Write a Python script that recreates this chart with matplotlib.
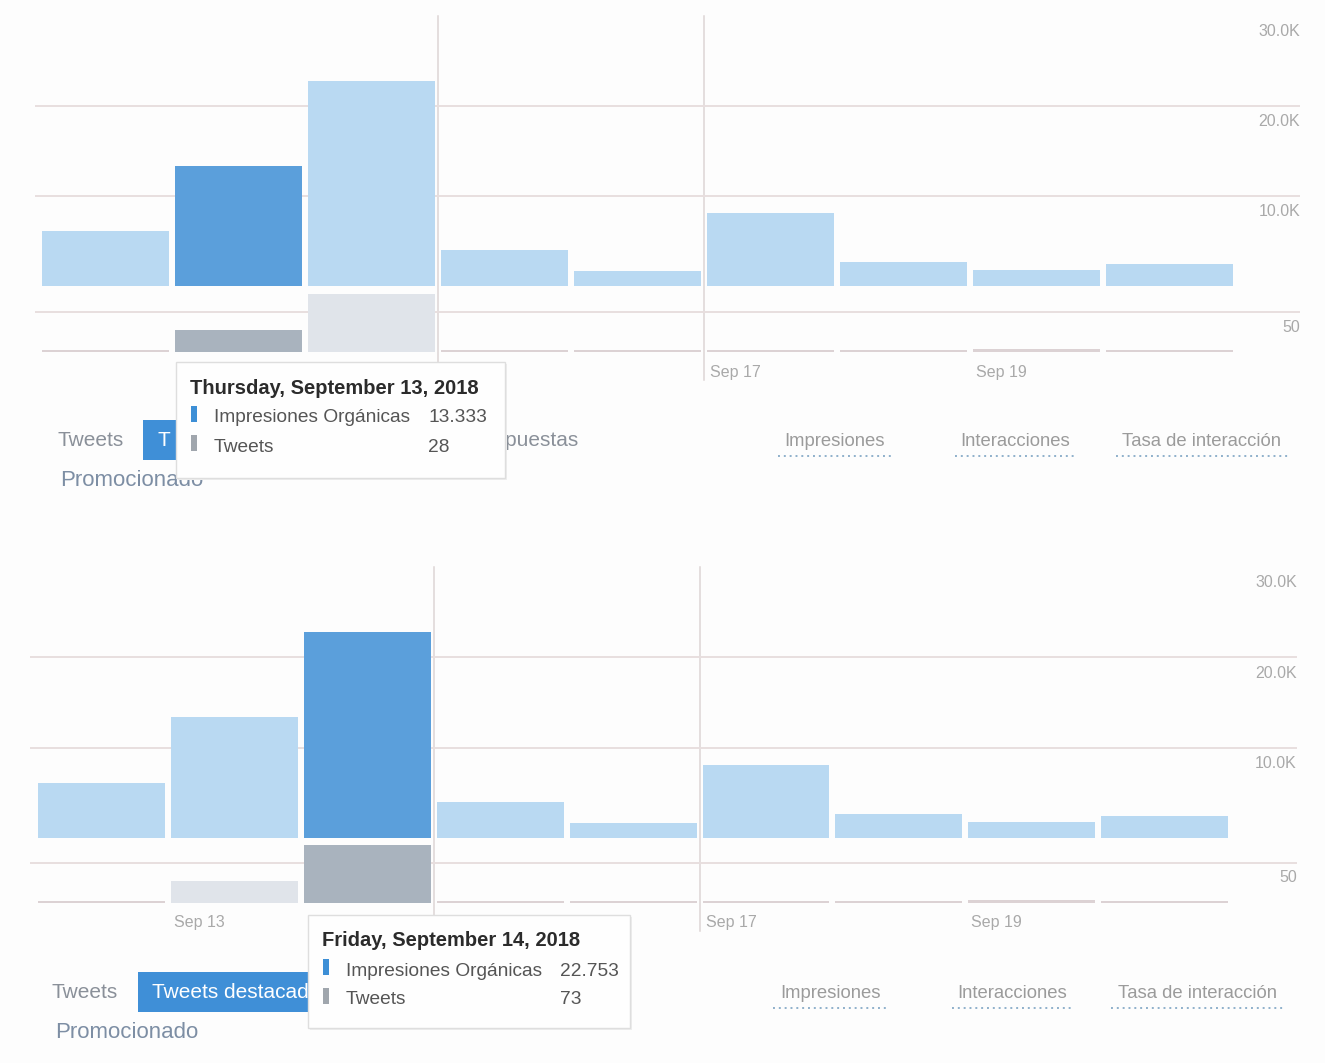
import matplotlib
matplotlib.use('Agg')
import matplotlib.pyplot as plt
import matplotlib.transforms as mtransforms
from matplotlib.patches import Rectangle

plt.rcParams['font.family'] = ['Liberation Sans', 'DejaVu Sans']

# ---------------- data ----------------
day_titles = ['Wednesday, September 12, 2018', 'Thursday, September 13, 2018',
              'Friday, September 14, 2018', 'Saturday, September 15, 2018',
              'Sunday, September 16, 2018', 'Monday, September 17, 2018',
              'Tuesday, September 18, 2018', 'Wednesday, September 19, 2018',
              'Thursday, September 20, 2018']
impressions = [6100, 13333, 22753, 4000, 1700, 8100, 2700, 1800, 2400]
tweets = [3, 28, 73, 2, 2, 3, 2, 4, 2]
tick_days = [1, 5, 7]
tick_labels = ['Sep 13', 'Sep 17', 'Sep 19']
week_breaks = [2.5, 4.5]
imp_ticks = [10000, 20000, 30000]
imp_tick_labels = ['10.0K', '20.0K', '30.0K']
tw_ticks = [50]
tw_tick_labels = ['50']
series_names = ['Impresiones Orgánicas', 'Tweets']
highlighted = [1, 2]       # hovered day in top / bottom screenshot
tabs_left = ['Tweets', 'Tweets destacados', 'Respuestas', 'Promocionado']
tabs_right = ['Impresiones', 'Interacciones', 'Tasa de interacción']

# ---------------- style ----------------
W, H = 1325, 1063
LIGHT_BLUE = '#b9d9f2'
DARK_BLUE = '#5b9fdb'
LIGHT_GRAY = '#e0e4ea'
DARK_GRAY = '#a9b3be'
GRID = '#e8dfdf'
AXTXT = '#a9a9a9'

fig = plt.figure(figsize=(W / 100, H / 100), dpi=100)
fig.patch.set_facecolor('#fdfdfd')


def rect(x0, y0, x1, y1):
    return [x0 / W, 1 - y1 / H, (x1 - x0) / W, (y1 - y0) / H]


ov = fig.add_axes([0, 0, 1, 1], zorder=10)
ov.set_xlim(0, W)
ov.set_ylim(H, 0)
ov.axis('off')
ov.patch.set_alpha(0)

panels = [
    dict(L=35, R=1300, c0=105.5, pitch=133.0, base=286, p10k=90.0, twbase=352,
         tip=(176, 362, 505, 478), tabs_x=57, tabs_y=440, btn=(143, 420, 470, 460),
         btn_label=tabs_left[1][:1], resp=True, right_cx=[835, 1015, 1202],
         hl=highlighted[0]),
    dict(L=30, R=1297, c0=101.5, pitch=132.9, base=838, p10k=90.5, twbase=903,
         tip=(308, 915, 630, 1028), tabs_x=52, tabs_y=992, btn=(138, 972, 465, 1012),
         btn_label=tabs_left[1], resp=False, right_cx=[830, 1012, 1197],
         hl=highlighted[1]),
]

n = len(impressions)
xs = list(range(n))
for P in panels:
    xl = ((P['L'] - P['c0']) / P['pitch'], (P['R'] - P['c0']) / P['pitch'])
    bw = 0.955
    hl = P['hl']
    # impressions axes
    top = P['base'] - 3 * P['p10k']
    ax = fig.add_axes(rect(P['L'], top, P['R'], P['base']))
    ax.set_xlim(*xl)
    ax.set_ylim(0, 30000)
    ax.patch.set_alpha(0)
    for s in ax.spines.values():
        s.set_visible(False)
    ax.set_xticks([])
    ax.set_yticks([])
    cols = [DARK_BLUE if i == hl else LIGHT_BLUE for i in xs]
    ax.bar(xs, impressions, width=bw, color=cols, zorder=2)
    for t in imp_ticks[:2]:
        ax.axhline(t, color=GRID, lw=1.4, zorder=1)
    off = mtransforms.offset_copy(ax.transData, fig=fig, x=0, y=-16, units='dots')
    bt = mtransforms.blended_transform_factory(ax.transAxes, off)
    for t, lab in zip(imp_ticks, imp_tick_labels):
        ax.text(1.0, t, lab, transform=bt, ha='right', va='center',
                fontsize=11.5, color=AXTXT)
    hpx = P['base'] - top
    for wb in week_breaks:
        ax.plot([wb, wb], [1.0, -(P['twbase'] + 28 - P['base']) / hpx],
                transform=mtransforms.blended_transform_factory(ax.transData, ax.transAxes),
                color='#ddd5d5', lw=1.1, clip_on=False, zorder=0)

    # tweets axes
    axt = fig.add_axes(rect(P['L'], P['twbase'] - 70, P['R'], P['twbase']))
    axt.set_xlim(*xl)
    axt.set_ylim(0, 70 / 0.8)
    axt.patch.set_alpha(0)
    for s in axt.spines.values():
        s.set_visible(False)
    tcols = [DARK_GRAY if i == hl else (LIGHT_GRAY if tweets[i] >= 10 else '#dcd2d4')
             for i in xs]
    axt.bar(xs, tweets, width=bw, color=tcols, zorder=2)
    for t in tw_ticks:
        axt.axhline(t, color=GRID, lw=1.4, zorder=1)
    offt = mtransforms.offset_copy(axt.transData, fig=fig, x=0, y=-15, units='dots')
    btt = mtransforms.blended_transform_factory(axt.transAxes, offt)
    for t, lab in zip(tw_ticks, tw_tick_labels):
        axt.text(1.0, t, lab, transform=btt, ha='right', va='center',
                 fontsize=11.5, color=AXTXT)
    axt.set_yticks([])
    axt.set_xticks([d - 0.5 + 0.045 for d in tick_days])
    axt.set_xticklabels(tick_labels, ha='left', fontsize=11.5, color=AXTXT)
    axt.tick_params(axis='x', length=0, pad=9)

    # tabs below chart
    x0, y0, x1, y1 = P['tip']
    ov.text(P['tabs_x'], P['tabs_y'], tabs_left[0], fontsize=15, color='#8a9099',
            va='center', ha='left')
    bx0, by0, bx1, by1 = P['btn']
    ov.add_patch(Rectangle((bx0, by0), x0 - bx0, by1 - by0, facecolor='#3f8fd7',
                           edgecolor='none', zorder=1))
    clip = Rectangle((bx0, by0), x0 - bx0, by1 - by0, transform=ov.transData)
    bt_txt = ov.text(bx0 + 14, (by0 + by1) / 2, P['btn_label'], fontsize=15,
                     color='white', va='center', ha='left', zorder=2)
    bt_txt.set_clip_path(clip)
    if P['resp']:
        rt = ov.text(x1 - 37, P['tabs_y'], tabs_left[2], fontsize=15, color='#8a9099',
                     va='center', ha='left', zorder=1)
        rt.set_clip_path(Rectangle((x1, y0), 200, y1 - y0, transform=ov.transData))
    ov.text(P['tabs_x'] + 3, P['tabs_y'] + 40, tabs_left[3], fontsize=16,
            color='#7d8ea4', va='center', ha='left', zorder=1)
    for cx, lab in zip(P['right_cx'], tabs_right):
        ov.text(cx, P['tabs_y'] + 1, lab, fontsize=13.3, color='#9b9b9b',
                va='center', ha='center')
    widths = [108, 114, 166]
    for cx, w in zip(P['right_cx'], widths):
        ov.plot([cx - w / 2 - 3, cx + w / 2 + 3], [P['tabs_y'] + 16] * 2, ls=(0, (1, 2)),
                color='#8fb0cb', lw=1.4)

    # tooltip
    ov.add_patch(Rectangle((x0 + 2, y0 + 2), x1 - x0, y1 - y0, facecolor='#eeeeee',
                           edgecolor='none', zorder=4))
    ov.add_patch(Rectangle((x0, y0), x1 - x0, y1 - y0, facecolor='#fefefe',
                           edgecolor='#dedede', lw=1.0, zorder=5))
    ov.text(x0 + 14, y0 + 26, day_titles[hl], fontsize=14.5, fontweight='bold',
            color='#2b2b2b', va='center', ha='left', zorder=6)
    vals = [f"{impressions[hl]:,}".replace(',', '.'), f"{tweets[hl]}"]
    mcols = ['#3d8fd6', '#a0a6ad']
    for k in range(2):
        yy = y0 + 56 + 29 * k
        ov.add_patch(Rectangle((x0 + 15, yy - 12), 6, 16, facecolor=mcols[k],
                               edgecolor='none', zorder=6))
        ov.text(x0 + 38, yy, series_names[k], fontsize=13.8, color='#555555',
                va='center', ha='left', zorder=6)
        ov.text(x0 + 252, yy, vals[k], fontsize=13.8, color='#555555',
                va='center', ha='left', zorder=6)

fig.savefig('out.png', dpi=100, facecolor=fig.get_facecolor())
